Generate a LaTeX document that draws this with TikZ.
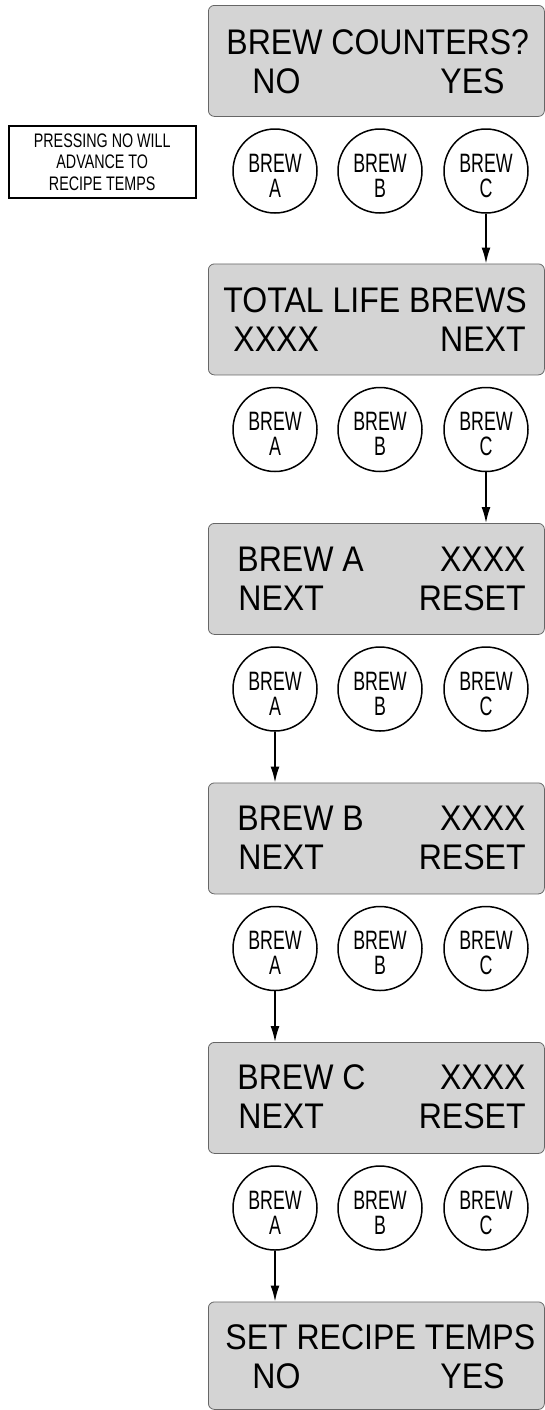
\documentclass[tikz,border=0pt]{standalone}
\usepackage{fontspec}
\setmainfont{Liberation Sans}
\newfontfamily\dispfont[FakeStretch=0.9]{Liberation Sans}
\newfontfamily\btnfont[FakeStretch=0.67]{Liberation Sans}
\newfontfamily\notefont[FakeStretch=0.73]{Liberation Sans}
\usetikzlibrary{arrows.meta}
\begin{document}
\begin{tikzpicture}[x=0.5pt,y=-0.5pt,
 panel/.style={draw=black!60, line width=0.4pt, fill=black!17, rounded corners=3pt, anchor=north west, minimum width=168pt, minimum height=55.5pt, inner sep=0pt},
 disp/.style={font=\dispfont\fontsize{17.8}{20}\selectfont, inner sep=0pt},
 btn/.style={circle, draw, line width=0.75pt, minimum size=42pt, inner sep=0pt},
 btntxt/.style={font=\btnfont\fontsize{13.3}{12.5}\selectfont, align=center, inner sep=0pt},
 note/.style={draw, line width=0.75pt, anchor=north west, minimum width=93.5pt, minimum height=36pt, inner sep=0pt, align=center, font=\notefont\fontsize{9.8}{10.75}\selectfont},
 arr/.style={line width=0.85pt, -{Latex[length=8pt,width=4.5pt]}},
]
\useasboundingbox (0,0) rectangle (545,1410);

% display panels
\node[panel] (p1) at (208,5) {};
\node[panel] (p2) at (208,263.5) {};
\node[panel] (p3) at (208,523) {};
\node[panel] (p4) at (208,782.5) {};
\node[panel] (p5) at (208,1042) {};
\node[panel, minimum height=53.75pt] (p6) at (208,1301.5) {};

% panel texts
\node[disp, anchor=base west] (p1a) at (226,54) {BREW COUNTERS?};
\node[disp, anchor=base west] (p1b) at (252,93) {NO};
\node[disp, anchor=base east] (p1c) at (505,93) {YES};

\node[disp, anchor=base west] (p2a) at (223,312) {TOTAL LIFE BREWS};
\node[disp, anchor=base west] (p2b) at (233,351.5) {XXXX};
\node[disp, anchor=base east] (p2c) at (526,351.5) {NEXT};

\node[disp, anchor=base west] (p3a) at (237,571) {BREW A};
\node[disp, anchor=base east] (p3b) at (526,571) {XXXX};
\node[disp, anchor=base west] (p3c) at (238,610.5) {NEXT};
\node[disp, anchor=base east] (p3d) at (526,610.5) {RESET};

\node[disp, anchor=base west] (p4a) at (237,830) {BREW B};
\node[disp, anchor=base east] (p4b) at (526,830) {XXXX};
\node[disp, anchor=base west] (p4c) at (238,869.5) {NEXT};
\node[disp, anchor=base east] (p4d) at (526,869.5) {RESET};

\node[disp, anchor=base west] (p5a) at (237,1089) {BREW C};
\node[disp, anchor=base east] (p5b) at (526,1089) {XXXX};
\node[disp, anchor=base west] (p5c) at (238,1128.5) {NEXT};
\node[disp, anchor=base east] (p5d) at (526,1128.5) {RESET};

\node[disp, anchor=base west] (p6a) at (225,1349) {SET RECIPE TEMPS};
\node[disp, anchor=base west] (p6b) at (252,1388.5) {NO};
\node[disp, anchor=base east] (p6c) at (505,1388.5) {YES};

% note box
\node[note] (nt) at (8,125) {PRESSING NO WILL\\ADVANCE TO\\RECIPE TEMPS};

% buttons, row by row
\foreach \r/\cy in {1/171, 2/429.5, 3/689, 4/948.5, 5/1208} {
  \node[btn] (c\r A) at (275,\cy) {};
  \node[btn] (c\r B) at (380,\cy) {};
  \node[btn] (c\r C) at (486,\cy) {};
  \node[btntxt] (t\r A) at (275,\cy+4.5) {BREW\\A};
  \node[btntxt] (t\r B) at (380,\cy+4.5) {BREW\\B};
  \node[btntxt] (t\r C) at (486,\cy+4.5) {BREW\\C};
}

% connectors
\draw[arr] (c1C.south) -- (c1C.south |- p2.north);
\draw[arr] (c2C.south) -- (c2C.south |- p3.north);
\draw[arr] (c3A.south) -- (c3A.south |- p4.north);
\draw[arr] (c4A.south) -- (c4A.south |- p5.north);
\draw[arr] (c5A.south) -- (c5A.south |- p6.north);
\end{tikzpicture}
\end{document}
